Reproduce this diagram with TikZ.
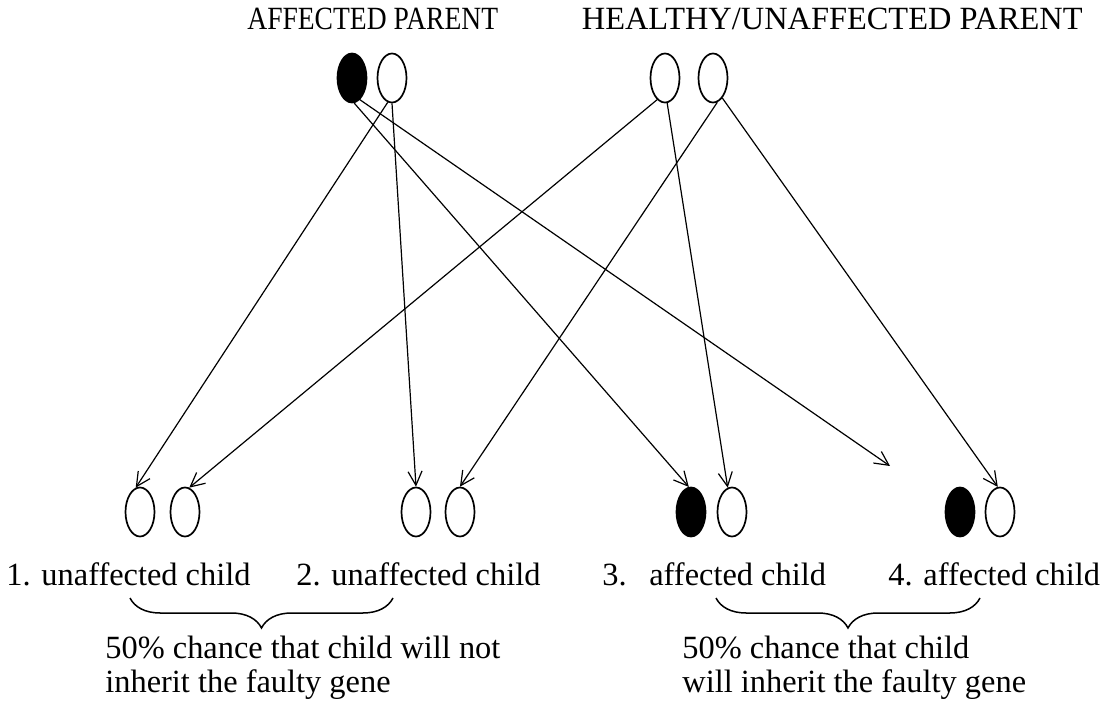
\documentclass[tikz,border=0pt]{standalone}
\usepackage{fontspec}
\setmainfont{Liberation Serif}
\usetikzlibrary{shapes.geometric,arrows.meta,decorations.pathreplacing}

\begin{document}
\begin{tikzpicture}[
        x=0.5pt,y=-0.5pt,
        allele/.style={draw,ellipse,line width=0.85pt,minimum width=14.5pt,minimum height=24.5pt,inner sep=0pt},
        faulty/.style={allele,fill=black},
        gene/.style={-{Straight Barb[length=7pt,width=7pt]},line width=0.6pt},
        words/.style={anchor=base west,inner sep=0pt,font=\fontsize{16.2}{17}\selectfont,align=left}
    ]
        \useasboundingbox (0,0) rectangle (1100,701);

        \node [words] (ap) at (247,30) {\scalebox{0.85}[1]{AFFECTED PARENT}};
        \node [words,anchor=base east] (hp) at (1083,30) {HEALTHY/UNAFFECTED PARENT};

        \node [faulty] (ap1) at (352,78) {};
        \node [allele] (ap2) at (392,78) {};
        \node [allele] (hp1) at (665,78) {};
        \node [allele] (hp2) at (713,78) {};

        \foreach \n/\x in {c1a/140,c1b/185,c2a/416,c2b/460,c3b/732,c4b/1000} {
            \node [allele] (\n) at (\x,512) {};
        }
        \node [faulty] (c3a) at (691,512) {};
        \node [faulty] (c4a) at (960,512) {};
        \coordinate (c4tip) at (890,466);

        \draw [gene] (ap1.-85) -- (c3a.95);
        \draw [gene] (ap1.-70) -- (c4tip);
        \draw [gene] (ap2.-100) -- (c1a.100);
        \draw [gene] (ap2.south) -- (c2a.north);
        \draw [gene] (hp1.-110) -- (c1b.80);
        \draw [gene] (hp1.-85) -- (c3b.100);
        \draw [gene] (hp2.-80) -- (c2b.north);
        \draw [gene] (hp2.-65) -- (c4b.95);

        \node [words] (k1) at (6,585) {1. unaffected child};
        \node [words] (k2) at (296,585) {2. unaffected child};
        \node [words] (k3) at (602,585) {3.\hspace{0.7em}affected child};
        \node [words] (k4) at (888,585) {4. affected child};

        \draw [decorate,decoration={brace,amplitude=15pt},line width=0.75pt] (393,598) -- (130,598);
        \draw [decorate,decoration={brace,amplitude=15pt},line width=0.75pt] (980,598) -- (716,598);

        \node [words] (notgene) at (105,692) {50\% chance that child will not\\inherit the faulty gene};
        \node [words] (getgene) at (682,692) {50\% chance that child\\will inherit the faulty gene};
\end{tikzpicture}
\end{document}
